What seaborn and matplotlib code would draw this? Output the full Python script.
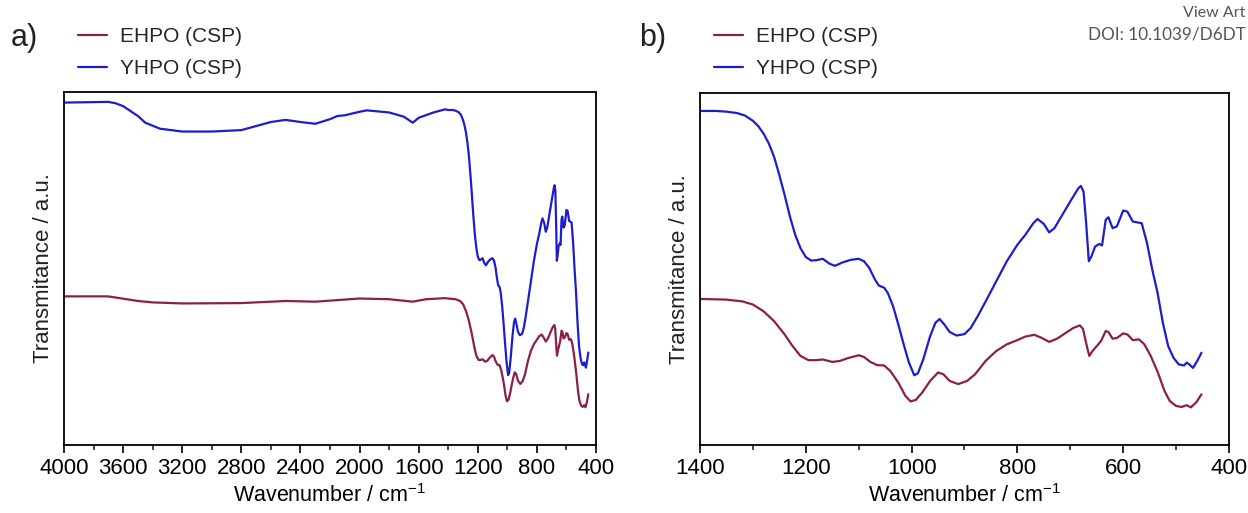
import numpy as np
import pandas as pd
import matplotlib
matplotlib.use('Agg')
import matplotlib.pyplot as plt
import seaborn as sns
from matplotlib.ticker import MultipleLocator

# ---- data (transmittance in arbitrary units) ----
wn_yhpo = [4000, 3700, 3650, 3600, 3500, 3450, 3350, 3200, 3000, 2800, 2600, 2500,
           2400, 2300, 2200, 2150, 2100, 2000, 1950, 1800, 1700, 1640, 1600, 1500,
           1420,
           1400, 1370, 1350, 1330, 1315, 1300, 1290, 1280, 1270, 1260, 1250, 1240,
           1230, 1220, 1210, 1200, 1190, 1180, 1168, 1155, 1145, 1130, 1115, 1100,
           1090, 1080, 1070, 1062, 1052, 1045, 1035, 1025, 1015, 1005, 995, 988,
           978, 965, 955, 947, 938, 928, 915, 900, 888, 875, 860, 840, 820, 800,
           785, 770, 762, 750, 740, 730, 715, 700, 685, 680, 675, 670, 665, 660,
           653, 645, 640, 633, 628, 620, 612, 600, 592, 582, 572, 565, 555, 545,
           535, 525, 515, 505, 495, 485, 480, 475, 468, 460, 452]
t_yhpo = [97.0, 97.2, 96.8, 96.0, 93.2, 91.3, 89.6, 88.8, 88.8, 89.2, 91.5, 92.1,
          91.5, 91.0, 92.3, 93.2, 93.4, 94.4, 94.8, 94.2, 93.0, 91.3, 92.7, 94.2,
          95.1,
          94.9, 94.9, 94.7, 94.3, 93.6, 92.1, 90.6, 88.5, 85.7, 81.9, 76.7, 71.0,
          64.9, 59.7, 55.9, 53.4, 52.4, 52.5, 52.9, 51.5, 50.9, 51.9, 52.6, 52.9,
          52.2, 50.3, 47.2, 45.3, 44.7, 43.2, 39.4, 34.2, 28.6, 23.4, 19.8, 20.4,
          24.3, 30.9, 34.7, 35.8, 34.2, 32.1, 31.1, 31.5, 33.3, 36.6, 40.8, 46.5, 52.2, 56.9,
          59.7, 63.0, 64.2, 62.8, 60.4, 61.6, 65.4, 69.2, 72.9, 73.6, 72.0, 63.0, 52.2, 53.6,
          56.4, 57.1, 56.7, 64.0, 64.7, 61.6, 62.1, 66.6, 66.3, 63.5, 63.2, 63.0, 57.4, 49.8,
          43.2, 34.7, 28.1, 24.8, 22.9, 22.6, 23.4, 22.9, 21.9, 23.9, 26.2]

wn_ehpo = [4000, 3700, 3500, 3400, 3200, 2800, 2500, 2300, 2000, 1800, 1640, 1550,
           1420,
           1400, 1350, 1320, 1300, 1280, 1260, 1240, 1225, 1210, 1195, 1180, 1168,
           1150, 1135, 1120, 1100, 1090, 1078, 1065, 1052, 1040, 1025, 1012, 1002,
           992, 980, 965, 950, 940, 928, 912, 895, 880, 860, 840, 820, 800, 785,
           768, 755, 740, 725, 710, 695, 682, 676, 668, 664, 658, 650, 642, 633,
           628, 620, 612, 600, 592, 582, 570, 560, 548, 535, 522, 512, 500, 490,
           480, 472, 462, 452]
t_ehpo = [42.1, 42.1, 40.8, 40.4, 40.1, 40.2, 40.8, 40.6, 41.5, 41.3, 40.6, 41.3,
          41.6,
          41.5, 41.3, 40.8, 39.9, 38.0, 35.2, 31.4, 28.1, 25.3, 24.1, 24.1, 24.3,
          23.6, 23.9, 24.7, 25.5, 25.0, 23.6, 22.7, 22.6, 21.0, 17.7, 14.0, 12.4,
          12.8, 14.9, 18.2, 20.6, 20.1, 18.2, 17.3, 18.2, 20.1, 23.9, 26.7, 28.6, 29.8, 30.8,
          31.3, 30.5, 29.3, 30.2, 31.7, 33.2, 34.0, 33.0, 27.6, 25.3, 26.7, 28.1, 29.5, 32.4,
          32.1, 30.2, 30.4, 31.7, 31.4, 29.8, 30.0, 28.6, 25.3, 20.8, 15.4, 12.5, 11.1, 10.8,
          11.3, 10.7, 12.1, 14.4]

series_names = ['EHPO (CSP)', 'YHPO (CSP)']
series_colors = ['#8a1f48', '#1d1dcc']
panel_labels = ['a)', 'b)']
panel_xlims = [(4000, 400), (1400, 400)]
panel_major = [400, 200]
xlabel = 'Wavenumber / cm$^{-1}$'
ylabel = 'Transmitance / a.u.'

df = pd.concat([
    pd.DataFrame({'wn': wn_ehpo, 'T': t_ehpo, 'sample': series_names[0]}),
    pd.DataFrame({'wn': wn_yhpo, 'T': t_yhpo, 'sample': series_names[1]}),
], ignore_index=True)

sns.set_theme(style='white')
plt.rcParams['font.family'] = ['Liberation Sans', 'DejaVu Sans']
plt.rcParams['mathtext.fontset'] = 'custom'
plt.rcParams['mathtext.rm'] = 'Liberation Sans'
plt.rcParams['mathtext.it'] = 'Liberation Sans:italic'
plt.rcParams['mathtext.bf'] = 'Liberation Sans:bold'

W, H = 1248, 513
fig = plt.figure(figsize=(W / 100, H / 100), dpi=100)

boxes = [(64, 92, 596, 445), (700, 93, 1229, 445)]
legend_x = [78, 714]
label_x = [11, 639]

for i, (x0, y0, x1, y1) in enumerate(boxes):
    ax = fig.add_axes([x0 / W, 1 - y1 / H, (x1 - x0) / W, (y1 - y0) / H])
    sns.lineplot(data=df, x='wn', y='T', hue='sample', hue_order=series_names,
                 palette=series_colors, estimator=None, ax=ax, lw=1.6)
    ax.set_xlim(*panel_xlims[i])
    ax.set_ylim(0, 100)
    ax.set_yticks([])
    ax.xaxis.set_major_locator(MultipleLocator(panel_major[i]))
    ax.xaxis.set_minor_locator(MultipleLocator(panel_major[i] / 2))
    ax.tick_params(axis='x', which='major', direction='out', length=6, width=1.2,
                   bottom=True, labelsize=16, pad=3, colors='black')
    ax.tick_params(axis='x', which='minor', direction='out', length=3.5, width=1.2,
                   bottom=True)
    for s in ax.spines.values():
        s.set_color('black')
        s.set_linewidth(1.3)
    ax.set_xlabel(xlabel, fontsize=15.5, labelpad=4, color='black')
    ax.set_ylabel(ylabel, fontsize=16, labelpad=7, color='#222222')
    handles, labels = ax.get_legend_handles_labels()
    ax.legend(handles, labels, loc='upper left',
              bbox_to_anchor=(legend_x[i] / W, 1 - 27 / H),
              bbox_transform=fig.transFigure, frameon=False, fontsize=15,
              handlelength=1.4, handletextpad=0.6, labelspacing=0.62,
              borderaxespad=0, borderpad=0)
    fig.text(label_x[i] / W, 1 - 38 / H, panel_labels[i], fontsize=22,
             va='center', ha='left', color='#222222')

fig.text(1245 / W, 1 - 13 / H, 'View Art', fontsize=11.5, color='#555555',
         family=['Lato', 'DejaVu Sans'], va='center', ha='right')
fig.text(1246 / W, 1 - 34 / H, 'DOI: 10.1039/D6DT', fontsize=12.3, color='#555555',
         family=['Lato', 'DejaVu Sans'], va='center', ha='right')

fig.savefig('out.png', dpi=100)
